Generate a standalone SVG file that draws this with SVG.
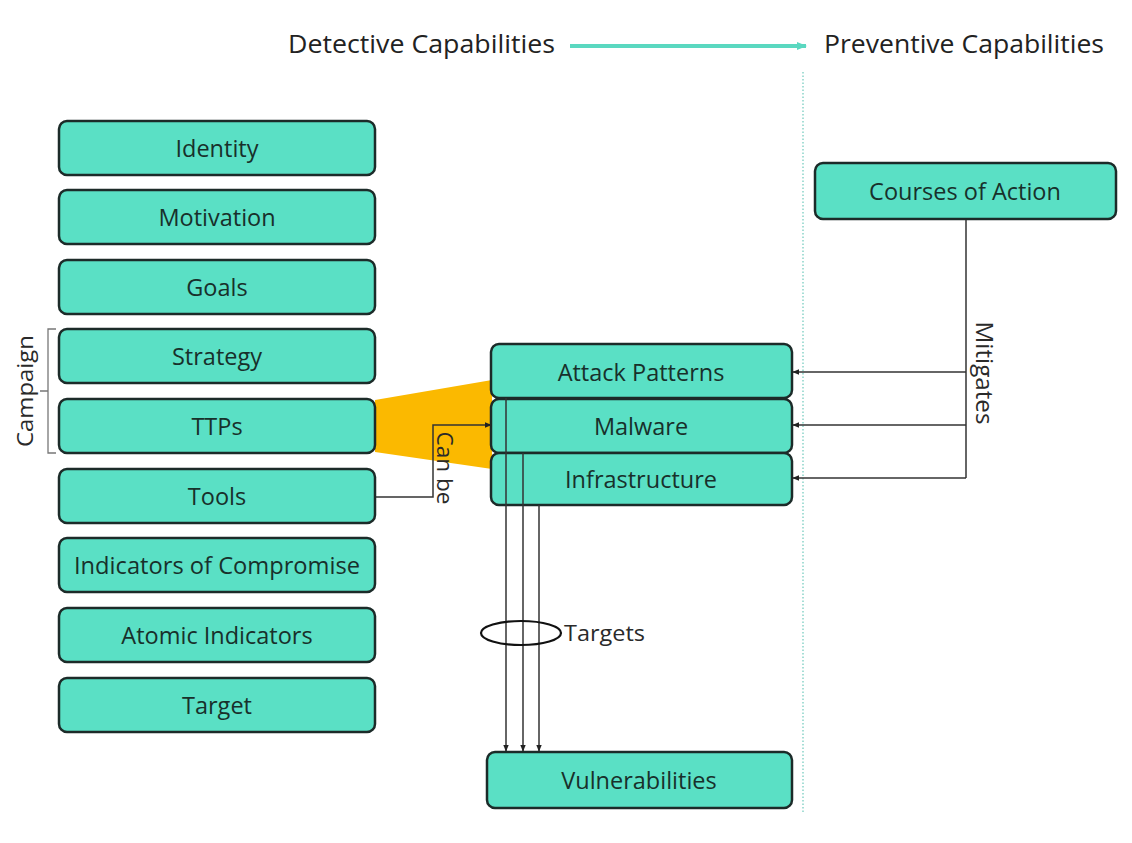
<svg xmlns="http://www.w3.org/2000/svg" width="1132" height="843" viewBox="0 0 1132 843">
  <style>
    .node rect { fill: #5ae0c5; stroke: #1c2b29; stroke-width: 2.5; }
    .node text { font-family: "Open Sans", "Liberation Sans", sans-serif; font-size: 23.5px; fill: #18302b; text-anchor: middle; }
    .hdr { font-family: "Open Sans", "Liberation Sans", sans-serif; font-size: 26px; fill: #222; }
    .lbl { font-family: "Open Sans", "Liberation Sans", sans-serif; font-size: 22px; fill: #2a2a2a; }
    .wire { fill: none; stroke: #333; stroke-width: 1.5; }
  </style>
  <defs>
    <marker id="arr" viewBox="0 0 10 10" refX="9" refY="5" markerWidth="7" markerHeight="7" orient="auto" markerUnits="userSpaceOnUse">
      <path d="M0,1 L10,5 L0,9 z" fill="#222"/>
    </marker>
    <marker id="arrTeal" viewBox="0 0 10 10" refX="9" refY="5" markerWidth="10" markerHeight="10" orient="auto" markerUnits="userSpaceOnUse">
      <path d="M0,1 L10,5 L0,9 z" fill="#5ad8c0"/>
    </marker>
  </defs>

  <rect width="1132" height="843" fill="#ffffff"/>

  <!-- header -->
  <g id="header">
    <text class="hdr" x="288" y="53" textLength="267" lengthAdjust="spacingAndGlyphs">Detective Capabilities</text>
    <text class="hdr" x="824" y="53" textLength="280" lengthAdjust="spacingAndGlyphs">Preventive Capabilities</text>
    <line x1="570" y1="46" x2="806" y2="46" stroke="#5ad8c0" stroke-width="4" marker-end="url(#arrTeal)"/>
    <line x1="803" y1="72" x2="803" y2="812" stroke="#6cc9bb" stroke-width="1.2" stroke-dasharray="1.5 2"/>
  </g>

  <!-- TTPs highlight -->
  <polygon id="ttp-highlight" points="375,400 492,380 492,469 375,452" fill="#fbb900"/>

  <!-- campaign bracket -->
  <g id="campaign">
    <path d="M56,329 L48,329 L48,453 L56,453 M48,391 L40,391" fill="none" stroke="#777" stroke-width="1.3"/>
    <text class="lbl" transform="translate(33,391) rotate(-90)" text-anchor="middle" textLength="112" lengthAdjust="spacingAndGlyphs">Campaign</text>
  </g>

  <!-- left column -->
  <g id="identity" class="node"><rect x="59" y="121" width="316" height="54" rx="8"/><text x="217" y="157">Identity</text></g>
  <g id="motivation" class="node"><rect x="59" y="190" width="316" height="54" rx="8"/><text x="217" y="226">Motivation</text></g>
  <g id="goals" class="node"><rect x="59" y="260" width="316" height="54" rx="8"/><text x="217" y="296">Goals</text></g>
  <g id="strategy" class="node"><rect x="59" y="329" width="316" height="54" rx="8"/><text x="217" y="365">Strategy</text></g>
  <g id="ttps" class="node"><rect x="59" y="399" width="316" height="54" rx="8"/><text x="217" y="435">TTPs</text></g>
  <g id="tools" class="node"><rect x="59" y="469" width="316" height="54" rx="8"/><text x="217" y="505">Tools</text></g>
  <g id="ioc" class="node"><rect x="59" y="538" width="316" height="54" rx="8"/><text x="217" y="574" textLength="286" lengthAdjust="spacingAndGlyphs">Indicators of Compromise</text></g>
  <g id="atomic" class="node"><rect x="59" y="608" width="316" height="54" rx="8"/><text x="217" y="644">Atomic Indicators</text></g>
  <g id="target" class="node"><rect x="59" y="678" width="316" height="54" rx="8"/><text x="217" y="714">Target</text></g>

  <!-- middle column -->
  <g id="attack-patterns" class="node"><rect x="491" y="344" width="301" height="54" rx="8"/><text x="641" y="381">Attack Patterns</text></g>
  <g id="malware" class="node"><rect x="491" y="399" width="301" height="54" rx="8"/><text x="641" y="435">Malware</text></g>
  <g id="infrastructure" class="node"><rect x="491" y="453" width="301" height="52" rx="8"/><text x="641" y="488">Infrastructure</text></g>
  <g id="vulnerabilities" class="node"><rect x="487" y="752" width="305" height="56" rx="8"/><text x="639" y="789">Vulnerabilities</text></g>

  <!-- right column -->
  <g id="courses-of-action" class="node"><rect x="815" y="163" width="301" height="56" rx="8"/><text x="965" y="200">Courses of Action</text></g>

  <!-- connectors -->
  <g id="connectors">
    <!-- Tools can be Malware -->
    <path class="wire" d="M376,497 L433,497 L433,425 L491,425" marker-end="url(#arr)"/>
    <text class="lbl" transform="translate(437,468) rotate(90)" text-anchor="middle" textLength="73" lengthAdjust="spacingAndGlyphs">Can be</text>

    <!-- Courses of Action mitigates -->
    <path class="wire" d="M966,220 L966,478"/>
    <path class="wire" d="M966,372 L793,372" marker-end="url(#arr)"/>
    <path class="wire" d="M966,425 L793,425" marker-end="url(#arr)"/>
    <path class="wire" d="M966,478 L793,478" marker-end="url(#arr)"/>
    <text class="lbl" transform="translate(976,373) rotate(90)" text-anchor="middle" textLength="103" lengthAdjust="spacingAndGlyphs" style="font-size:24px">Mitigates</text>

    <!-- targets -->
    <path class="wire" d="M506,398 L506,751" marker-end="url(#arr)"/>
    <path class="wire" d="M523,453 L523,751" marker-end="url(#arr)"/>
    <path class="wire" d="M539,505 L539,751" marker-end="url(#arr)"/>
    <ellipse cx="521" cy="633" rx="40" ry="12" fill="none" stroke="#111" stroke-width="2.2"/>
    <text class="lbl" x="564" y="641" textLength="81" lengthAdjust="spacingAndGlyphs">Targets</text>
  </g>
</svg>
